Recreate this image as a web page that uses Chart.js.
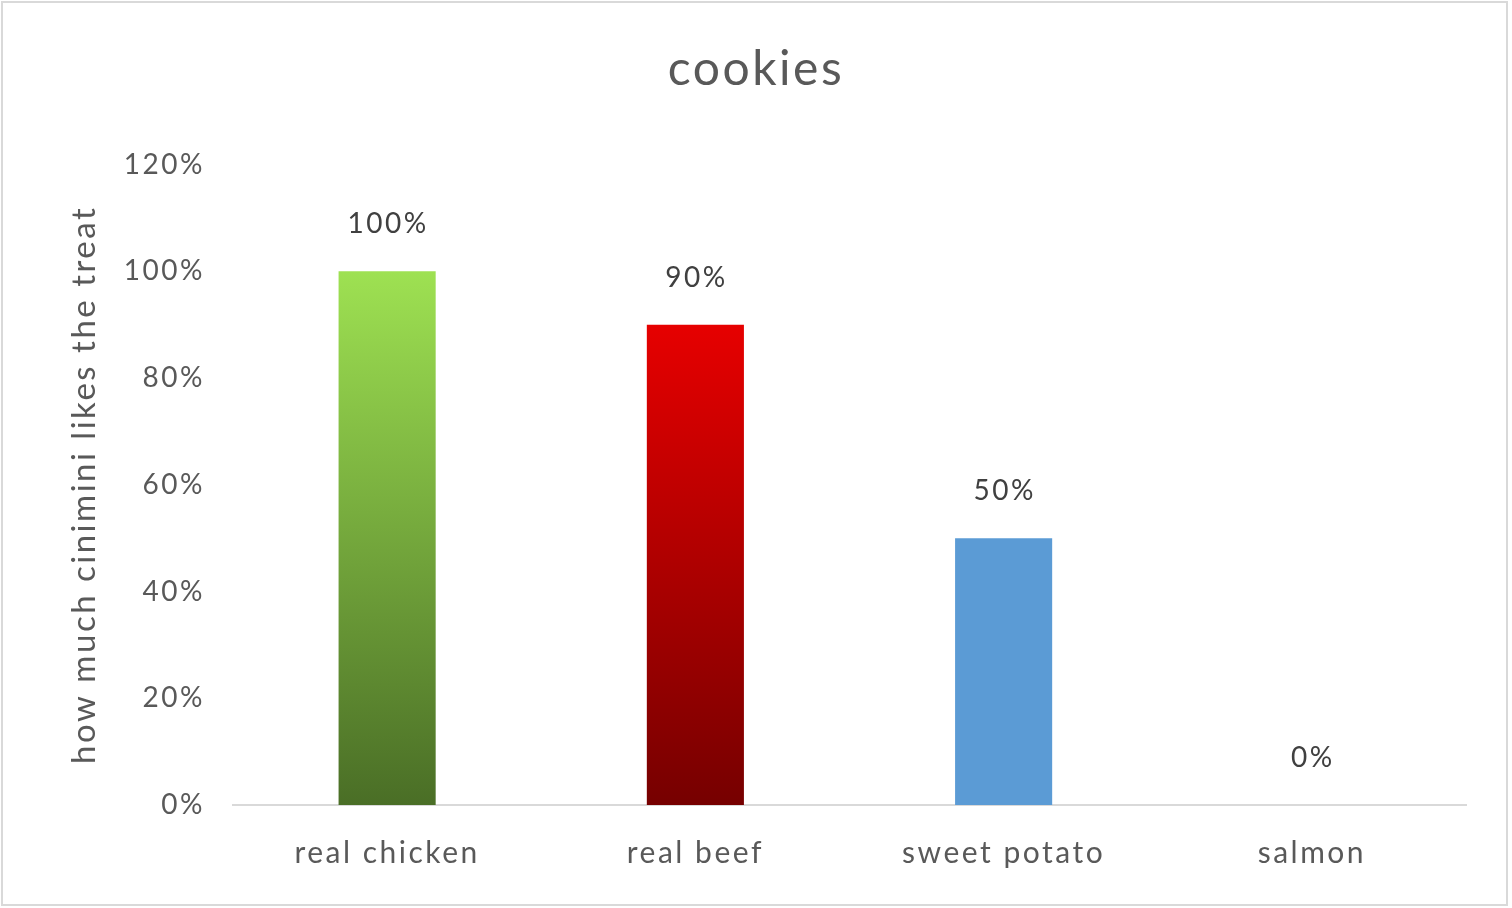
<!DOCTYPE html>
<html>
<head>
<meta charset="utf-8">
<script src="https://cdn.jsdelivr.net/npm/chart.js@4/dist/chart.umd.min.js"></script>
<style>
  html, body { margin: 0; padding: 0; background: #fff; }
  #wrap { position: relative; width: 1512px; height: 908px; }
  #frame { position: absolute; left: 1px; top: 1px; width: 1503px; height: 901px; border: 2px solid #d9d9d9; pointer-events: none; }
  canvas { position: absolute; left: 0; top: 0; }
</style>
</head>
<body>
<div id="wrap">
  <canvas id="c" width="1512" height="908"></canvas>
  <div id="frame"></div>
</div>
<script>
const titleText = "cookies";
const yAxisTitle = "how much cinimini likes the treat";
const categories = ["real chicken", "real beef", "sweet potato", "salmon"];
const values = [1.0, 0.9, 0.5, 0.0];
const gradientTops = ["#9ee152", "#e60000", "#5b9bd5", "#5b9bd5"];
const gradientBottoms = ["#4a6e26", "#760000", "#5b9bd5", "#5b9bd5"];
const yMin = 0, yMax = 1.2, yStep = 0.2;

const FONT = "Lato, 'Open Sans', 'Liberation Sans', sans-serif";
const SPACING = "2.5px";
const pct = v => Math.round(v * 100) + "%";

const spacing = {
  id: "spacing",
  beforeInit(chart) { chart.ctx.letterSpacing = SPACING; },
  beforeUpdate(chart) { chart.ctx.letterSpacing = SPACING; },
  beforeDraw(chart) { chart.ctx.letterSpacing = SPACING; }
};

const dataLabels = {
  id: "dataLabels",
  afterDatasetsDraw(chart) {
    const ctx = chart.ctx;
    const meta = chart.getDatasetMeta(0);
    ctx.save();
    ctx.letterSpacing = SPACING;
    ctx.font = "28px " + FONT;
    ctx.fillStyle = "#404040";
    ctx.textAlign = "center";
    ctx.textBaseline = "middle";
    meta.data.forEach((bar, i) => {
      ctx.fillText(pct(values[i]), bar.x + 1, bar.y - 47);
    });
    ctx.restore();
  }
};

new Chart(document.getElementById("c"), {
  type: "bar",
  data: {
    labels: categories,
    datasets: [{
      data: values,
      barPercentage: 0.315,
      categoryPercentage: 1.0,
      borderWidth: 0,
      backgroundColor(context) {
        const chart = context.chart;
        const y = chart.scales.y;
        const i = context.dataIndex;
        if (!chart.chartArea || !y) return gradientTops[i];
        const top = y.getPixelForValue(values[i]);
        const bottom = y.getPixelForValue(0);
        if (bottom - top < 1) return gradientTops[i];
        const g = chart.ctx.createLinearGradient(0, top, 0, bottom);
        g.addColorStop(0, gradientTops[i]);
        g.addColorStop(1, gradientBottoms[i]);
        return g;
      }
    }]
  },
  options: {
    responsive: false,
    animation: false,
    devicePixelRatio: 1,
    layout: { padding: { left: 0, right: 0, top: 0, bottom: 0 } },
    plugins: {
      legend: { display: false },
      tooltip: { enabled: false },
      title: {
        display: true,
        text: titleText,
        color: "#595959",
        font: { family: FONT, size: 48, weight: "normal" },
        padding: { top: 41, bottom: 66 }
      }
    },
    scales: {
      x: {
        grid: { display: false, drawTicks: false },
        border: { display: true, color: "#d9d9d9", width: 2 },
        ticks: { color: "#595959", font: { family: FONT, size: 30 }, padding: 30, maxRotation: 0 },
        afterFit(s) { s.height = 103; }
      },
      y: {
        min: yMin, max: yMax,
        grid: { display: false, drawTicks: false },
        border: { display: false },
        ticks: { stepSize: yStep, color: "#595959", font: { family: FONT, size: 28 }, padding: 28, callback: v => pct(v) },
        title: {
          display: true,
          text: yAxisTitle,
          color: "#595959",
          font: { family: FONT, size: 33, weight: "normal" },
          padding: { top: 65, bottom: 0 }
        },
        afterFit(s) { s.width = 233; }
      },
      yRight: {
        position: "right",
        display: true,
        grid: { display: false, drawTicks: false },
        border: { display: false },
        ticks: { display: false },
        afterFit(s) { s.width = 46; }
      }
    }
  },
  plugins: [spacing, dataLabels]
});
</script>
</body>
</html>
